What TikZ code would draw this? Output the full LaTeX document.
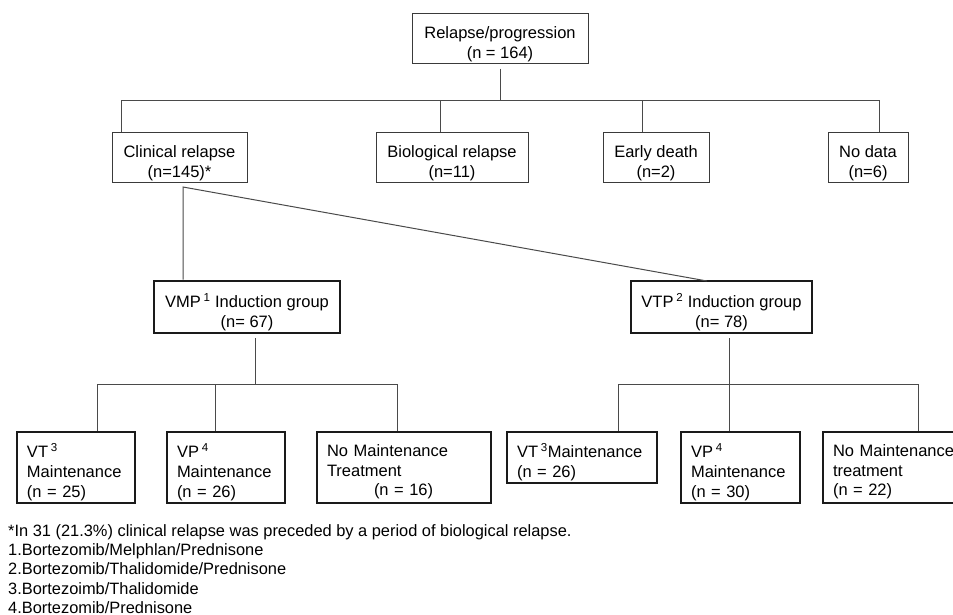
\documentclass[tikz,border=0pt]{standalone}
\usepackage{fontspec}
\setmainfont{Liberation Sans}
\definecolor{linegray}{HTML}{4A4A4A}
\definecolor{boxgray}{HTML}{3A3A3A}
\definecolor{boxblack}{HTML}{1A1A1A}
\newcommand{\boxfont}{\fontsize{16.5}{19.6}\selectfont}
\newcommand{\notefont}{\fontsize{16.4}{19.7}\selectfont}
\begin{document}
\begin{tikzpicture}[x=1pt,y=-1pt,
  thinbox/.style={draw=boxgray, line width=1pt, inner sep=0pt},
  thickbox/.style={draw=boxblack, line width=2.6pt, inner sep=0pt},
  ctxt/.style={inner sep=0pt, font=\boxfont, align=center},
  ltxt/.style={inner sep=0pt, font=\boxfont, align=left, text width=#1},
  conn/.style={draw=linegray, line width=1pt},
  note/.style={anchor=base west, inner sep=0pt, font=\notefont}]
\useasboundingbox (0,0) rectangle (953,614);
\clip (0,0) rectangle (953,614);
\fill[white] (0,0) rectangle (953,614);

% level 1
\node[thinbox, minimum width=176pt, minimum height=50pt] (top) at (500,38) {};
\node[ctxt] (topT) at ([yshift=-6pt]top.center) {Relapse/progression\\(n = 164)};
% level 2
\node[thinbox, minimum width=135pt, minimum height=50pt] (clin) at (179.5,157) {};
\node[ctxt] (clinT) at ([yshift=-6pt]clin.center) {Clinical relapse\\(n=145)*};
\node[thinbox, minimum width=152pt, minimum height=50pt] (bio) at (452,157) {};
\node[ctxt] (bioT) at ([yshift=-6pt]bio.center) {Biological relapse\\(n=11)};
\node[thinbox, minimum width=106pt, minimum height=50pt] (death) at (656,157) {};
\node[ctxt] (deathT) at ([yshift=-6pt]death.center) {Early death\\(n=2)};
\node[thinbox, minimum width=80pt, minimum height=50pt] (nodata) at (868,157) {};
\node[ctxt] (nodataT) at ([yshift=-6pt]nodata.center) {No data\\(n=6)};
% level 3
\node[thickbox, minimum width=186pt, minimum height=52pt] (vmp) at (247,307) {};
\node[ctxt] (vmpT) at ([yshift=-5pt]vmp.center) {VMP\,\textsuperscript{1} Induction group\\(n= 67)};
\node[thickbox, minimum width=181pt, minimum height=52pt] (vtp) at (721.5,307) {};
\node[ctxt] (vtpT) at ([yshift=-5pt]vtp.center) {VTP\,\textsuperscript{2} Induction group\\(n= 78)};
% level 4
\node[thickbox, minimum width=118pt, minimum height=71pt] (vt1) at (76,467.5) {};
\node[ltxt=98pt] (vt1T) at ([yshift=-4.5pt]vt1.center) {VT\,\textsuperscript{3}\\Maintenance\\(n = 25)};
\node[thickbox, minimum width=118pt, minimum height=71pt] (vp1) at (226,467.5) {};
\node[ltxt=98pt] (vp1T) at ([yshift=-4.5pt]vp1.center) {VP\,\textsuperscript{4}\\Maintenance\\(n = 26)};
\node[thickbox, minimum width=174pt, minimum height=71pt] (nm1) at (404,467.5) {};
\node[ltxt=154pt] (nm1T) at ([yshift=-4.5pt]nm1.center) {No Maintenance\\Treatment\\\hspace*{47pt}(n = 16)};
\node[thickbox, minimum width=150pt, minimum height=51pt] (vt2) at (582,457.5) {};
\node[ltxt=130pt] (vt2T) at ([yshift=-4.5pt]vt2.center) {VT\,\textsuperscript{3}Maintenance\\(n = 26)};
\node[thickbox, minimum width=119pt, minimum height=71pt] (vp2) at (740.5,467.5) {};
\node[ltxt=99pt] (vp2T) at ([yshift=-4.5pt]vp2.center) {VP\,\textsuperscript{4}\\Maintenance\\(n = 30)};
\node[thickbox, minimum width=160pt, minimum height=71pt] (nm2) at (903,467.5) {};
\node[ltxt=140pt] (nm2T) at ([yshift=-4.5pt]nm2.center) {No Maintenance\\treatment\\(n = 22)};

% connectors level 1 -> 2
\coordinate (bus1) at (500,100);
\coordinate (b1a) at (121,100);
\coordinate (b1b) at (440,100);
\coordinate (b1c) at (642,100);
\coordinate (b1d) at (879,100);
\draw[conn] ([yshift=-5pt]top.south) -- (bus1);
\draw[conn] (b1a) -- (b1d);
\draw[conn] (b1a) -- (b1a |- clin.north);
\draw[conn] (b1b) -- (b1b |- bio.north);
\draw[conn] (b1c) -- (b1c |- death.north);
\draw[conn] (b1d) -- (b1d |- nodata.north);

% clinical -> induction groups
\coordinate (split) at (183,187);
\coordinate (vtpin) at (707,281);
\draw[conn] (split |- vmp.north) -- (split) -- (vtpin);

% VMP -> maintenance
\coordinate (bus2) at (255,384);
\coordinate (b2a) at (97,384);
\coordinate (b2b) at (215,384);
\coordinate (b2c) at (397,384);
\draw[conn] (bus2 |- vmp.south) ++(0,4) -- (bus2);
\draw[conn] (b2a) -- (b2c);
\draw[conn] (b2a) -- (b2a |- vt1.north);
\draw[conn] (b2b) -- (b2b |- vp1.north);
\draw[conn] (b2c) -- (b2c |- nm1.north);

% VTP -> maintenance
\coordinate (bus3) at (729,384);
\coordinate (b3a) at (618,384);
\coordinate (b3c) at (918,384);
\draw[conn] (bus3 |- vtp.south) ++(0,4) -- (bus3);
\draw[conn] (b3a) -- (b3c);
\draw[conn] (b3a) -- (b3a |- vt2.north);
\draw[conn] (bus3) -- (bus3 |- vp2.north);
\draw[conn] (b3c) -- (b3c |- nm2.north);

% footnotes
\node[note] (fn0) at (8,536) {*In 31 (21.3\%) clinical relapse was preceded by a period of biological relapse.};
\node[note] (fn1) at (8,555) {1.Bortezomib/Melphlan/Prednisone};
\node[note] (fn2) at (8,574.5) {2.Bortezomib/Thalidomide/Prednisone};
\node[note] (fn3) at (8,594) {3.Bortezoimb/Thalidomide};
\node[note] (fn4) at (8,613.5) {4.Bortezomib/Prednisone};
\end{tikzpicture}
\end{document}
